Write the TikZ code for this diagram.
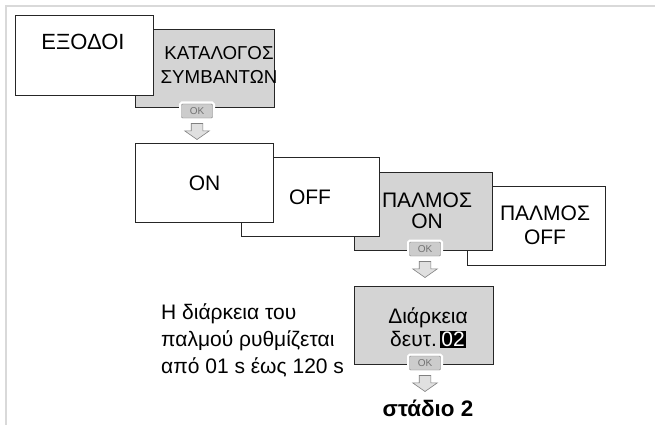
\documentclass[tikz,border=0pt]{standalone}
\usepackage{fontspec}
\setmainfont{Liberation Sans}
\usetikzlibrary{shapes.arrows,positioning}

\begin{document}
\begin{tikzpicture}[x=1pt,y=-1pt,
panel/.style={draw=black!85,line width=1.1pt,fill=white,anchor=north west,inner sep=0pt,minimum width=138pt,minimum height=79pt},
greypanel/.style={panel,fill=black!17},
word/.style={align=center,inner sep=0pt,font=\fontsize{21}{23}\selectfont},
okkey/.style={draw=black!50,fill=black!20,rounded corners=1pt,inner sep=0pt,minimum width=31pt,minimum height=14pt,
  font=\fontsize{10}{10}\selectfont,text=black!55,preaction={draw=white,line width=5pt}},
downarrow/.style={single arrow,shape border rotate=270,draw=black!50,fill=black!12,line width=0.6pt,
  inner sep=5.5pt,single arrow head extend=6.5pt,single arrow tip angle=110,minimum height=16pt}]
\useasboundingbox (0,0) rectangle (655,425);
\draw[black!15,line width=1.5pt] (6,425) -- (6,6) -- (655,6);
% top row
\node[greypanel,minimum width=139pt,minimum height=78pt] (catalog) at (135,29) {};
\node[panel,minimum height=80pt] (outputs) at (15,15) {};
\node[word,font=\fontsize{22}{23}\selectfont] (outputstxt) at (83,42) {ΕΞΟΔΟΙ};
\node[word,font=\fontsize{18.7}{24}\selectfont] (catalogtxt) at (219,65) {ΚΑΤΑΛΟΓΟΣ\\ΣΥΜΒΑΝΤΩΝ};
\node[okkey] (ok1) at (197,111) {OK};
\node[downarrow,below=5pt of ok1] (arr1) {};
% choices
\node[panel] (pulseoff) at (467,186) {};
\node[greypanel,minimum height=78pt] (pulseon) at (354,172) {};
\node[panel] (off) at (241,157) {};
\node[panel] (on) at (135,143) {};
\node[word] (ontxt) at (on.center) {ON};
\node[word] (offtxt) at (310,197) {OFF};
\node[word,font=\fontsize{21}{21}\selectfont] (pulseontxt) at (427,211) {ΠΑΛΜΟΣ\\ON};
\node[word,font=\fontsize{21}{24}\selectfont] (pulseofftxt) at (545,225) {ΠΑΛΜΟΣ\\OFF};
\node[okkey] (ok2) at (425,249) {OK};
\node[downarrow,below=5pt of ok2] (arr2) {};
% pulse time
\node[greypanel,minimum width=139pt,minimum height=78pt] (duration) at (354,286) {};
\node[word] (durationtxt) at (428,328) {Διάρκεια\\δευτ.\,{\fboxsep=1pt\colorbox{black}{\textcolor{white}{02}}}};
\node[okkey] (ok3) at (425,363) {OK};
\node[downarrow,below=5pt of ok3] (arr3) {};
\node[word,font=\bfseries\fontsize{22.4}{23}\selectfont] (stage) at (428,408) {στάδιο 2};
\node[align=left,inner sep=0pt,anchor=west,font=\fontsize{21}{27}\selectfont] (note) at (161,340)
  {Η διάρκεια του\\παλμού ρυθμίζεται\\από 01 s έως 120 s};
\end{tikzpicture}
\end{document}
